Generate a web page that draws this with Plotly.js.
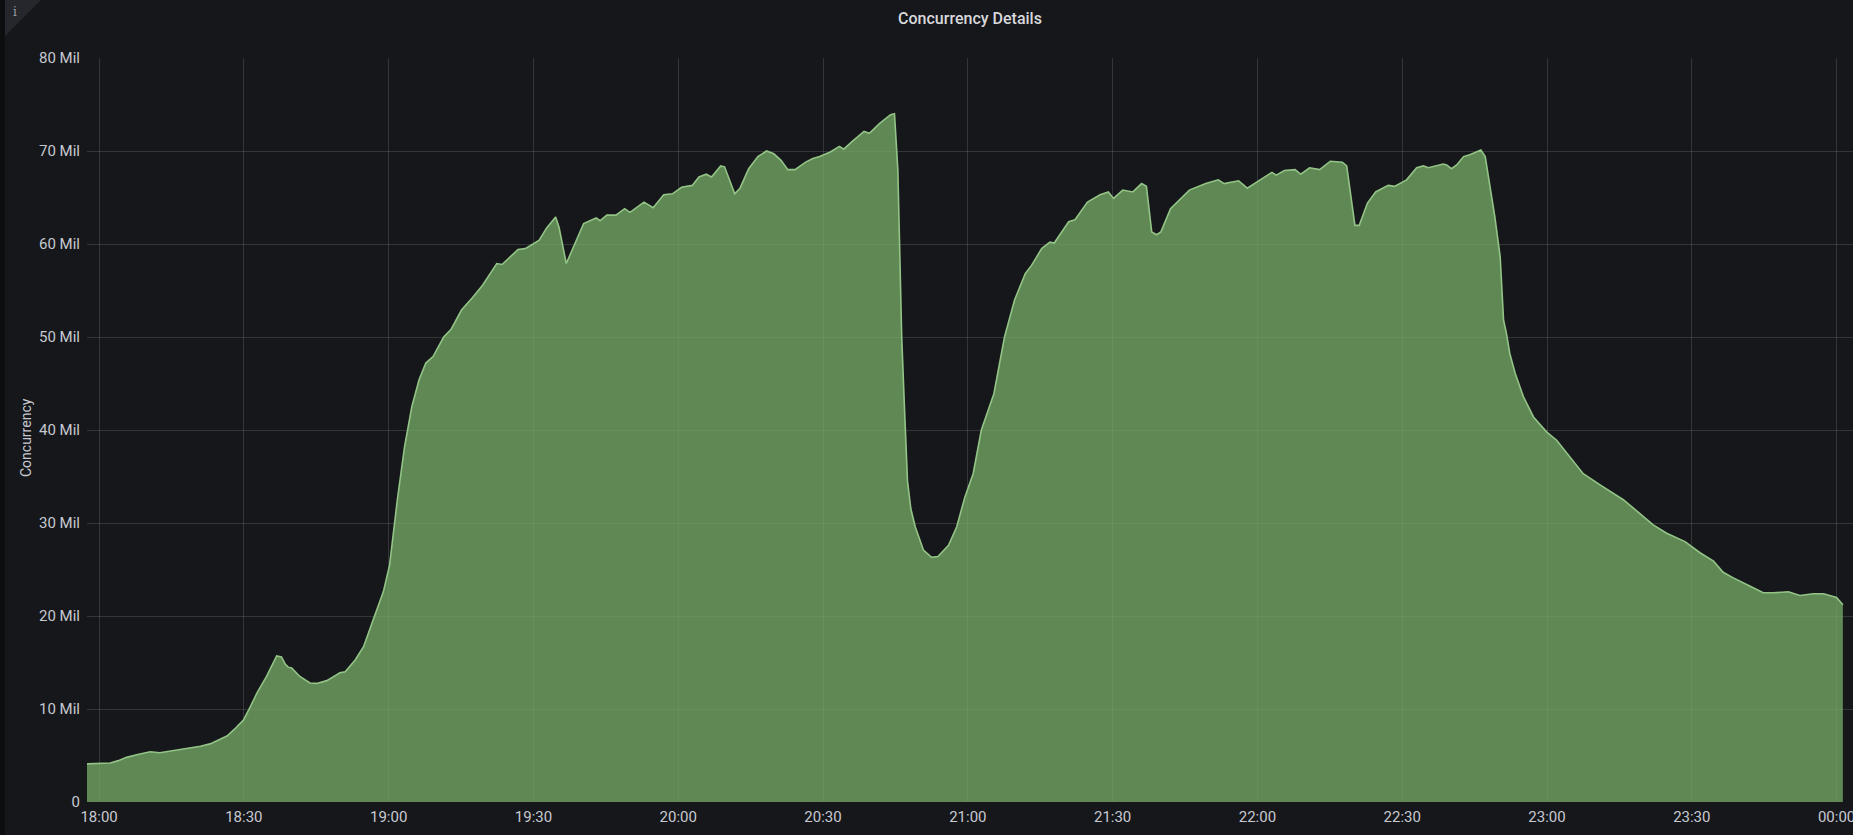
<!DOCTYPE html>
<html>
<head>
<meta charset="utf-8">
<script src="https://cdn.plot.ly/plotly-3.0.1.min.js"></script>
<style>
  html, body { margin: 0; padding: 0; background: #16171b; }
  #chart { width: 1853px; height: 835px; }
</style>
</head>
<body>
<div id="chart"></div>
<script>
// ---- data (minutes after 18:00, concurrency in millions) ----
const minutesAfter1800 = [
  -2.5, 0, 2.3, 4, 5.7, 8, 10.6, 12.6, 15, 17.5, 19.5, 21, 23, 25, 26.5, 28, 29.9, 31.3, 32.7, 34.7,
  36.8, 37.8, 38.6, 39.2, 39.9, 41.6, 43.7, 45.1, 47.2, 49.9, 51, 53.1, 54.8, 56.8, 58.9, 60.2, 61.8,
  63.3, 64.8, 66.3, 67.7, 69.2, 71.4, 72.9, 75.1, 77.3, 79.5, 82.4, 83.5, 86.8, 88.3, 91.2, 92.7, 94.6,
  95.3, 96.8, 98.6, 100.4, 103.0, 103.8, 105.2, 107.1, 108.9, 110.0, 112.9, 114.8, 117.0, 118.8, 120.7,
  122.9, 124.3, 125.8, 126.9, 128.8, 129.6, 131.7, 132.8, 134.6, 136.5, 138.3, 139.8, 141.3, 142.7,
  144.2, 146.4, 147.9, 149.3, 151.5, 153.4, 154.3, 156.0, 158.5, 159.6, 161.8, 164.0, 164.8, 165.5,
  166.3, 166.9, 167.5, 168.2, 169.1, 170.8, 172.5, 173.8, 176.0, 177.7, 179.4, 181.1, 182.8, 185.4,
  187.6, 189.7, 191.9, 193.2, 195.3, 197.0, 197.9, 200.9, 202.2, 204.8, 207.4, 209.1, 210.2, 212.1,
  214.2, 216.0, 217.0, 218.1, 219.1, 220.0, 222.0, 225.9, 229.3, 231.9, 233.1, 236.1, 237.9, 240.0,
  243.0, 243.9, 245.6, 247.8, 249.0, 250.8, 252.9, 255.1, 257.6, 258.5, 260.2, 261.1, 262.8, 264.5,
  267.1, 268.4, 270.9, 273.0, 274.4, 275.4, 278.5, 279.2, 280.2, 281.3, 282.7, 284.0, 285.4, 286.3,
  287.2, 288.2, 289.2, 290.3, 291.0, 291.6, 292.3, 293.4, 295.1, 297.2, 299.9, 302.0, 304.1, 307.5,
  311.0, 313.7, 315.8, 317.9, 322.0, 324.8, 327.6, 328.6, 331.7, 334.5, 336.5, 338.6, 342.1, 344.8,
  346.9, 350.0, 352.4, 355.2, 357.3, 358.6, 360.0, 361.3
];
const concurrencyMil = [
  4.1, 4.15, 4.2, 4.45, 4.8, 5.1, 5.4, 5.3, 5.5, 5.75, 5.85, 6.0, 6.25, 6.7, 7.1, 7.8, 8.8, 10.2, 11.7, 13.5,
  15.7, 15.6, 14.8, 14.5, 14.4, 13.5, 12.8, 12.75, 13.05, 13.9, 14.0, 15.3, 16.7, 19.6, 22.6, 25.5, 32.5,
  38.2, 42.5, 45.4, 47.2, 47.9, 50.0, 50.8, 52.9, 54.2, 55.6, 57.9, 57.8, 59.4, 59.5, 60.4, 61.7, 62.9,
  61.8, 57.9, 60.1, 62.2, 62.8, 62.5, 63.1, 63.1, 63.8, 63.4, 64.5, 63.9, 65.3, 65.4, 66.1,
  66.3, 67.2, 67.5, 67.2, 68.4, 68.3, 65.4, 66.0, 68.1, 69.4, 70.0, 69.7, 69.0, 68.0,
  68.0, 68.8, 69.2, 69.4, 69.9, 70.5, 70.2, 71.0, 72.1, 71.9, 73.0, 73.9, 74.0, 68.0,
  50.0, 42.0, 34.5, 31.5, 29.6, 27.1, 26.3, 26.4, 27.6, 29.6, 32.8, 35.3, 40.0, 43.9,
  50.0, 54.0, 56.8, 57.7, 59.5, 60.2, 60.1, 62.4, 62.6, 64.5, 65.3, 65.6, 64.9, 65.8,
  65.6, 66.5, 66.2, 61.3, 61.0, 61.3, 63.8, 65.8, 66.5, 66.9, 66.5, 66.8, 66.0, 66.7,
  67.7, 67.4, 67.9, 68.0, 67.5, 68.2, 68.0, 68.9, 68.8, 68.4, 62.0, 62.0, 64.4, 65.6,
  66.3, 66.2, 66.9, 68.2, 68.4, 68.2, 68.6, 68.5, 68.1, 68.5, 69.4, 69.6, 69.9, 70.1,
  69.4, 66.2, 62.9, 58.6, 51.8, 50.4, 48.2, 46.1, 43.6, 41.4, 39.8, 38.9, 37.5, 35.3,
  34.1, 33.2, 32.5, 31.6, 29.8, 28.9, 28.3, 28.0, 26.8, 25.9, 24.7, 24.1, 23.2, 22.5,
  22.5, 22.6, 22.2, 22.4, 22.4, 22.2, 22.0, 21.2
];
const yTickValues = [0, 10, 20, 30, 40, 50, 60, 70, 80];
const yTickLabels = ['0', '10 Mil', '20 Mil', '30 Mil', '40 Mil', '50 Mil', '60 Mil', '70 Mil', '80 Mil'];
const xRangeMinutes = [-2.5, 363.4];
const chartTitle = 'Concurrency Details';
const yAxisTitle = 'Concurrency';

// ---- helpers ----
function pad(n) { return String(n).padStart(2, '0'); }
function minutesToDate(m) {
  const totalSec = Math.round((18 * 60 + m) * 60);
  const day = 1 + Math.floor(totalSec / 86400);
  const s = totalSec % 86400;
  const hh = Math.floor(s / 3600), mm = Math.floor((s % 3600) / 60), ss = s % 60;
  return '2023-01-' + pad(day) + ' ' + pad(hh) + ':' + pad(mm) + ':' + pad(ss);
}

const W = 1853, H = 835;
const M = { l: 87, r: 0, t: 58, b: 33 };
const PW = W - M.l - M.r, PH = H - M.t - M.b;
function px(x) { return (x - M.l) / PW; }
function py(y) { return (H - M.b - y) / PH; }

const textColor = '#c7c9d1';
const gridColor = 'rgba(255,255,255,0.13)';

const trace = {
  type: 'scatter',
  mode: 'lines',
  x: minutesAfter1800.map(minutesToDate),
  y: concurrencyMil,
  fill: 'tozeroy',
  fillcolor: 'rgba(118,172,104,0.76)',
  line: { color: '#93c486', width: 1.6, shape: 'linear' },
  hoverinfo: 'x+y'
};

const layout = {
  width: W, height: H,
  margin: M,
  paper_bgcolor: '#16171b',
  plot_bgcolor: '#16171b',
  font: { family: 'Roboto, "Open Sans", sans-serif', color: textColor, size: 15 },
  showlegend: false,
  title: {
    text: chartTitle,
    font: { size: 16, color: '#d8d9dc', weight: 500 },
    xref: 'paper', x: 0.5, xanchor: 'center',
    yref: 'container', y: 1 - 18 / H, yanchor: 'middle'
  },
  xaxis: {
    type: 'date',
    range: [minutesToDate(xRangeMinutes[0]), minutesToDate(xRangeMinutes[1])],
    tickformat: '%H:%M',
    dtick: 30 * 60 * 1000,
    tick0: '2023-01-01 18:00:00',
    showgrid: true, gridcolor: gridColor, gridwidth: 1,
    zeroline: false, showline: false, ticks: '',
    tickfont: { size: 15, color: textColor },
    ticklabeloverflow: 'allow',
    ticklabelstandoff: 4,
    fixedrange: true
  },
  yaxis: {
    range: [0, 80],
    tickvals: yTickValues,
    ticktext: yTickLabels,
    showgrid: true, gridcolor: gridColor, gridwidth: 1,
    zeroline: false, showline: false, ticks: '',
    tickfont: { size: 15, color: textColor },
    ticklabelstandoff: 6,
    automargin: false,
    fixedrange: true
  },
  shapes: [
    { type: 'rect', xref: 'paper', yref: 'paper', x0: px(0), x1: px(5), y0: py(H), y1: py(0),
      fillcolor: '#0d0e10', line: { width: 0 }, layer: 'below' },
    { type: 'path', xref: 'paper', yref: 'paper',
      path: 'M ' + px(5) + ' ' + py(0) + ' L ' + px(41) + ' ' + py(0) + ' L ' + px(5) + ' ' + py(36) + ' Z',
      fillcolor: '#25272c', line: { width: 0 }, layer: 'below' }
  ],
  annotations: [
    { text: 'i', xref: 'paper', yref: 'paper', x: px(15), y: py(12), xanchor: 'center', yanchor: 'middle',
      showarrow: false, font: { size: 12, color: '#9a9ca3', family: 'DejaVu Serif, serif' } },
    { text: yAxisTitle, xref: 'paper', yref: 'paper', x: px(26), y: py(438), xanchor: 'center', yanchor: 'middle',
      textangle: -90, showarrow: false, font: { size: 14, color: textColor } }
  ]
};

Plotly.newPlot('chart', [trace], layout, { displayModeBar: false, staticPlot: true });
</script>
</body>
</html>
